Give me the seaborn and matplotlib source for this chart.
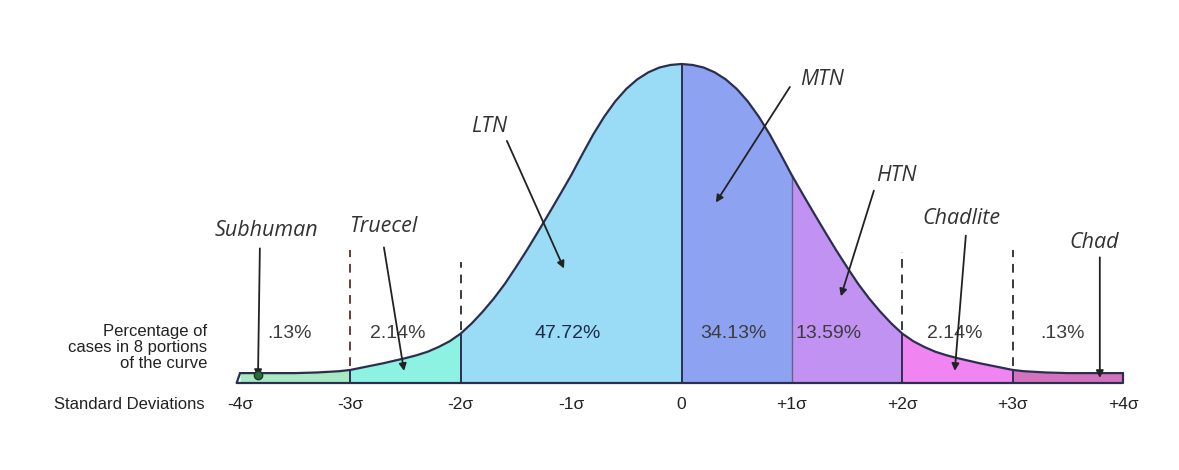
import numpy as np
import pandas as pd
import matplotlib
matplotlib.use('Agg')
import matplotlib.pyplot as plt
import seaborn as sns

# Curve heights (peak = 1) for 0, 0.1, ... 4 sigma;
# the picture is symmetric so the left half is the mirror of these.
half_sigma = [0.0, 0.1, 0.2, 0.3, 0.4, 0.5, 0.6, 0.7, 0.8, 0.9,
              1.0, 1.1, 1.2, 1.3, 1.4, 1.5, 1.6, 1.7, 1.8, 1.9,
              2.0, 2.1, 2.2, 2.3, 2.4, 2.5, 2.6, 2.7, 2.8, 2.9,
              3.0, 3.1, 3.2, 3.3, 3.4, 3.5, 3.6, 3.7, 3.8, 3.9, 4.0]
half_height = [1.000, 0.997, 0.989, 0.974, 0.952, 0.922, 0.883, 0.835, 0.779, 0.716,
               0.651, 0.591, 0.532, 0.474, 0.417, 0.363, 0.311, 0.265, 0.224, 0.187,
               0.155, 0.131, 0.113, 0.098, 0.087, 0.078, 0.070, 0.062, 0.055, 0.048,
               0.041, 0.037, 0.035, 0.033, 0.032, 0.031, 0.031, 0.031, 0.031, 0.031, 0.031]

# Shaded portions of the curve
region_lo = [-4, -3, -2, 0, 1, 2, 3]
region_hi = [-3, -2, 0, 1, 2, 3, 4]
region_colors = ['#a8e8c2', '#8ef2e2', '#9adcf6', '#8ea2f2', '#c292f2', '#f084f0', '#d472c0']

pct_labels = ['.13%', '2.14%', '47.72%', '34.13%', '13.59%', '2.14%', '.13%']
pct_x = [-3.55, -2.57, -1.03, 0.47, 1.33, 2.48, 3.45]

tick_pos = [-4, -3, -2, -1, 0, 1, 2, 3, 4]
tick_labels = ['-4σ', '-3σ', '-2σ', '-1σ', '0', '+1σ', '+2σ', '+3σ', '+4σ']

categories = ['Subhuman', 'Truecel', 'LTN', 'MTN', 'HTN', 'Chadlite', 'Chad']
cat_xy = [(-3.76, 0.478), (-2.70, 0.491), (-1.74, 0.803), (1.27, 0.95),
          (1.95, 0.65), (2.54, 0.516), (3.735, 0.44)]
arrow_from = [(-3.82, 0.422), (-2.696, 0.425), (-1.582, 0.759), (0.982, 0.928),
              (1.743, 0.603), (2.576, 0.462), (3.79, 0.394)]
arrow_to = [(-3.837, 0.019), (-2.514, 0.038), (-1.065, 0.359), (0.312, 0.566),
            (1.444, 0.272), (2.476, 0.038), (3.79, 0.016)]

dashed_pos = [-3, -2, 2, 3]
dashed_top = [0.416, 0.378, 0.41, 0.416]

sig = [-s for s in half_sigma[:0:-1]] + half_sigma
hgt = half_height[:0:-1] + half_height
df = pd.DataFrame({'sigma': np.round(sig, 1), 'height': hgt})

sns.set_theme(style='white')
plt.rcParams['font.family'] = ['Liberation Sans', 'DejaVu Sans']

W, H = 1179, 470
fig = plt.figure(figsize=(W / 100, H / 100), dpi=100)
x0, x1, y0, y1 = 240, 1123, 383, 64
ax = fig.add_axes([x0 / W, (H - y0) / H, (x1 - x0) / W, (y0 - y1) / H])
ax.set_xlim(-4, 4)
ax.set_ylim(0, 1)

line_col = '#2b2f4f'

# fills
for lo, hi, c in zip(region_lo, region_hi, region_colors):
    part = df[(df.sigma >= lo) & (df.sigma <= hi)]
    ax.fill_between(part.sigma, 0, part.height, color=c, lw=0, zorder=1)

# curve outline
sns.lineplot(data=df, x='sigma', y='height', color=line_col, lw=1.6, ax=ax,
             zorder=3, clip_on=False)
ax.plot([-4, -4.03, 4, 4], [df.height.iloc[0], 0, 0, df.height.iloc[-1]],
        color=line_col, lw=1.6, zorder=3, clip_on=False)

# boundaries between the portions
hmap = dict(zip(df.sigma, df.height))
for b in [-3, -2, 0, 1, 2, 3]:
    col = '#6a5f8a' if b == 1 else line_col
    lw = 1.0 if b == 1 else 1.4
    ax.plot([b, b], [0, hmap[b]], color=col, lw=lw, zorder=2)

for b, top in zip(dashed_pos, dashed_top):
    col = '#6b3b3b' if b == -3 else '#3a3a3a'
    ax.plot([b, b], [hmap[b] + 0.012, top], color=col, lw=1.4,
            ls=(0, (4.5, 3.5)), zorder=2)

# percentages
for x, t in zip(pct_x, pct_labels):
    col = '#1e2a4a' if t == '47.72%' else '#3c3c3c'
    ax.text(x, 0.156, t, ha='center', va='center', fontsize=14, color=col, zorder=5)

# category labels and arrows
for name, (tx, ty), p0, p1 in zip(categories, cat_xy, arrow_from, arrow_to):
    ax.text(tx, ty, name, ha='center', va='center', fontsize=15.5, style='italic',
            color='#333333', family='Open Sans', zorder=6)
    ax.annotate('', xy=p1, xytext=p0,
                arrowprops=dict(arrowstyle='-|>,head_length=0.35,head_width=0.18',
                                color='#222222', lw=1.3, shrinkA=0, shrinkB=0),
                zorder=6, annotation_clip=False)
ax.plot(arrow_to[0][0], arrow_to[0][1] + 0.005, 'o', ms=6, color='#2a6a3a',
        mec='#1a3a22', zorder=7, clip_on=False)

# left-hand captions
ax.text(-4.30, 0.112, 'Percentage of\ncases in 8 portions\nof the curve', ha='right',
        va='center', fontsize=12, color='#222222', linespacing=1.1)
ax.text(-4.32, -0.066, 'Standard Deviations', ha='right', va='center',
        fontsize=12, color='#222222')

ax.set_xticks(tick_pos)
ax.set_xticklabels(tick_labels, fontsize=12.5, color='#222222')
ax.tick_params(axis='x', length=0, pad=10)
ax.set_yticks([])
ax.set_xlabel('')
ax.set_ylabel('')
sns.despine(ax=ax, left=True, bottom=True)

fig.savefig('out.png', dpi=100)
